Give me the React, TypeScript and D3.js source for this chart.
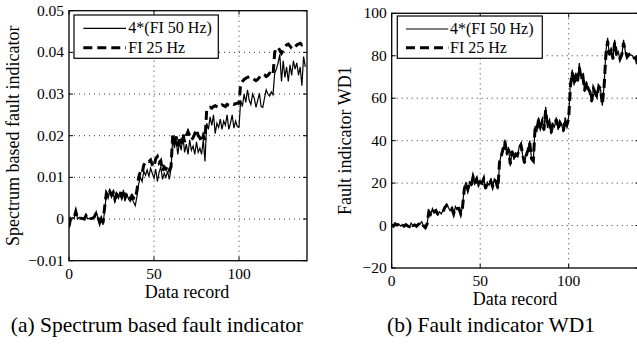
import React from "react";
import * as d3 from "d3";

const xTicks = [0, 50, 100];
const leftYTicks = [-0.01, 0, 0.01, 0.02, 0.03, 0.04, 0.05];
const leftYTickLabels = ["\u22120.01", "0", "0.01", "0.02", "0.03", "0.04", "0.05"];
const rightYTicks = [-20, 0, 20, 40, 60, 80, 100];
const rightYTickLabels = ["\u221220", "0", "20", "40", "60", "80", "100"];
const legendLabels = ["4*(FI 50 Hz)", "FI 25 Hz"];

// Left panel: spectrum based fault indicator (index 0..139)
const leftFI50 = [
  -0.0022, 0.0, 0.0003, 0.0001, 0.0024, 0.0, 0.0004, 0.0001, 0.0002, -0.0001,
  0.001, 0.0, 0.0002, 0.0, 0.0001, 0.0005, 0.0018, 0.0004, -0.001, 0.0008,
  -0.0014, 0.0022, 0.006, 0.005, 0.0068, 0.0052, 0.0062, 0.004, 0.0058, 0.005,
  0.0066, 0.0048, 0.007, 0.0044, 0.006, 0.0048, 0.0042, 0.005, 0.004, 0.0032,
  0.0055, 0.0085, 0.01, 0.009, 0.0115, 0.0105, 0.0118, 0.0102, 0.0122, 0.011,
  0.0098, 0.012, 0.009, 0.0112, 0.0125, 0.0095, 0.011, 0.01, 0.0115, 0.0095,
  0.012, 0.0195, 0.017, 0.019, 0.0155, 0.0185, 0.0165, 0.02, 0.016, 0.018,
  0.0155, 0.019, 0.0165, 0.0175, 0.0155, 0.0185, 0.016, 0.017, 0.0155, 0.019,
  0.0138, 0.023, 0.0215, 0.0245, 0.0225, 0.025, 0.0205, 0.023, 0.022, 0.024,
  0.0215, 0.0235, 0.0225, 0.025, 0.0215, 0.023, 0.025, 0.0218, 0.0235, 0.0222,
  0.022, 0.0285, 0.027, 0.03, 0.028, 0.031, 0.0285, 0.0275, 0.03, 0.029,
  0.0268, 0.0285, 0.0302, 0.027, 0.0268, 0.029, 0.031, 0.03, 0.0295, 0.0305,
  0.0298, 0.035, 0.036, 0.0375, 0.0395, 0.033, 0.038, 0.034, 0.0365, 0.033,
  0.037, 0.0345, 0.038, 0.036, 0.0375, 0.0345, 0.0365, 0.032, 0.039, 0.0365,
];
const leftFI25 = [
  -0.0018, 0.0002, 0.0002, 0.0003, 0.0018, 0.0002, 0.0003, 0.0002, 0.0001, 0.0,
  0.0008, 0.0001, 0.0001, 0.0001, 0.0002, 0.0006, 0.0015, 0.0005, -0.0008, 0.0006,
  -0.001, 0.003, 0.0062, 0.0055, 0.0066, 0.0058, 0.0064, 0.0048, 0.006, 0.0055,
  0.0066, 0.0054, 0.007, 0.0052, 0.0062, 0.0055, 0.005, 0.0056, 0.005, 0.0048,
  0.007, 0.01, 0.0115, 0.011, 0.013, 0.0135, 0.014, 0.0138, 0.0142, 0.013,
  0.0125, 0.0145, 0.015, 0.0135, 0.014, 0.0115, 0.0125, 0.012, 0.0128, 0.0118,
  0.0125, 0.02, 0.0185, 0.0198, 0.0175, 0.0195, 0.018, 0.0205, 0.0185, 0.02,
  0.021, 0.02, 0.019, 0.0195, 0.0205, 0.0215, 0.02, 0.0195, 0.0185, 0.02,
  0.019, 0.0262, 0.0265, 0.0268, 0.0266, 0.027, 0.0272, 0.027, 0.0268, 0.027,
  0.0274, 0.0272, 0.027, 0.0275, 0.0273, 0.0272, 0.0276, 0.0275, 0.0277, 0.0278,
  0.0278, 0.0325, 0.033, 0.0335, 0.0338, 0.034, 0.0342, 0.034, 0.0338, 0.0335,
  0.0332, 0.0335, 0.034, 0.0345, 0.0348, 0.0346, 0.0342, 0.0345, 0.035, 0.0348,
  0.0345, 0.04, 0.041, 0.0412, 0.0405, 0.0398, 0.0405, 0.0412, 0.0418, 0.042,
  0.0415, 0.041, 0.0408, 0.0412, 0.0418, 0.042, 0.0422, 0.0418, 0.042, 0.0422,
];

// Right panel: fault indicator WD1 (index 0..140)
const rightFI50 = [
  0.5, -0.5, 1.0, 0.0, 0.8, -0.3, 0.5, -0.5, 0.2, 0.0,
  -0.8, 1.2, -0.2, 0.5, -0.5, 0.3, 0.8, 1.8, -0.5, -0.8,
  0.5, 7.5, 5.0, 8.0, 6.0, 7.5, 5.0, 6.5, 5.5, 7.0,
  8.0, 10.0, 8.5, 7.0, 8.5, 5.0, 9.0, 7.5, 8.5, 5.0,
  9.0, 18.0, 20.5, 16.0, 21.0, 18.5, 24.0, 20.0, 22.5, 18.0,
  21.0, 19.5, 23.0, 17.0, 20.5, 19.0, 21.5, 18.0, 22.0, 21.0,
  17.0, 30.0, 34.0, 36.0, 40.5, 33.0, 37.0, 28.0, 35.5, 31.0,
  34.0, 32.5, 37.0, 38.5, 33.0, 29.0, 33.5, 36.0, 40.0, 31.0,
  30.0, 47.0, 44.0, 51.0, 46.0, 50.0, 44.5, 56.0, 46.0, 49.0,
  43.0, 48.0, 46.5, 51.0, 45.0, 49.0, 47.5, 44.0, 51.0, 47.0,
  51.5, 68.0, 73.5, 66.0, 72.0, 68.5, 76.5, 69.0, 71.5, 63.0,
  68.0, 64.0, 62.5, 58.0, 65.0, 62.0, 60.0, 66.0, 64.0, 56.5,
  66.0, 82.0, 88.5, 80.0, 84.0, 78.0, 87.5, 80.5, 82.0, 78.0,
  80.0, 87.5, 82.0, 79.0, 81.0, 80.5, 80.0, 78.5, 79.5, 75.0,
  74.0,
];
const rightFI25 = [
  0.3, -0.3, 0.8, 0.2, 0.6, -0.1, 0.3, -0.3, 0.4, -0.2,
  -0.5, 1.0, 0.0, 0.3, -0.3, 0.5, 1.0, 1.5, -0.2, -1.0,
  0.8, 6.5, 5.5, 7.5, 6.5, 7.0, 5.5, 6.0, 6.0, 6.5,
  8.5, 9.5, 8.0, 7.5, 8.0, 5.5, 8.5, 8.0, 8.0, 5.5,
  8.5, 17.0, 20.0, 17.0, 20.0, 19.0, 23.0, 20.5, 22.0, 18.5,
  20.5, 20.0, 22.0, 17.5, 20.0, 19.5, 21.0, 18.5, 21.5, 20.5,
  17.5, 31.0, 33.0, 36.5, 39.5, 33.5, 36.0, 29.0, 35.0, 31.5,
  33.5, 33.0, 36.5, 38.0, 33.5, 29.5, 33.0, 35.5, 39.0, 31.5,
  30.5, 46.0, 45.0, 50.0, 46.5, 49.0, 45.0, 54.5, 46.5, 48.5,
  43.5, 47.5, 47.0, 50.0, 45.5, 48.5, 47.0, 44.5, 50.0, 47.5,
  50.5, 66.0, 72.0, 66.5, 71.0, 68.0, 74.5, 69.5, 70.5, 63.5,
  67.5, 64.5, 63.0, 58.5, 64.5, 62.5, 60.5, 65.5, 64.5, 57.0,
  65.5, 80.5, 87.0, 80.5, 83.0, 78.5, 86.5, 81.0, 81.5, 78.5,
  80.5, 86.0, 82.5, 79.5, 80.5, 81.0, 80.5, 79.0, 79.0, 75.5,
  74.5,
];

const FONT = "'Liberation Serif', 'Times New Roman', serif";

type PanelProps = {
  id: string;
  left: number;
  right: number;
  top: number;
  bottom: number;
  yDomain: [number, number];
  yTicks: number[];
  yTickLabels: string[];
  s50: number[];
  s25: number[];
  yLabel: string;
  yLabelX: number;
  legend: { x: number; y: number; w: number; h: number; lineX0: number; lineX1: number; textX: number; row1: number; row2: number };
  caption: string;
  captionX: number;
  xLabelX: number;
};

function Panel(p: PanelProps) {
  const x = d3.scaleLinear().domain([0, 140]).range([p.left, p.right]);
  const y = d3.scaleLinear().domain(p.yDomain).range([p.bottom, p.top]);
  const line = d3
    .line<number>()
    .x((_, i) => x(i))
    .y((d) => y(d));
  const plotRight = Math.min(p.right, 640);
  const tickLen = 4;
  return (
    <g>
      <defs>
        <clipPath id={`clip-${p.id}`}>
          <rect x={p.left} y={p.top} width={plotRight - p.left} height={p.bottom - p.top} />
        </clipPath>
      </defs>
      {/* grid */}
      {p.yTicks.slice(1, -1).map((t) => (
        <line key={`gy${t}`} x1={p.left} x2={plotRight} y1={y(t)} y2={y(t)} stroke="#333" strokeWidth={1} strokeDasharray="1,4" />
      ))}
      {xTicks.slice(1).map((t) => (
        <line key={`gx${t}`} x1={x(t)} x2={x(t)} y1={p.top} y2={p.bottom} stroke="#333" strokeWidth={1} strokeDasharray="1,4" />
      ))}
      {/* data */}
      <g clipPath={`url(#clip-${p.id})`}>
        <path d={line(p.s25) || ""} fill="none" stroke="#000" strokeWidth={3} strokeDasharray="9,5" />
        <path d={line(p.s50) || ""} fill="none" stroke="#000" strokeWidth={1.2} />
      </g>
      {/* frame */}
      <rect x={p.left} y={p.top} width={p.right - p.left} height={p.bottom - p.top} fill="none" stroke="#000" strokeWidth={1.3} />
      {/* ticks */}
      {xTicks.map((t) => (
        <g key={`xt${t}`}>
          <line x1={x(t)} x2={x(t)} y1={p.bottom} y2={p.bottom - tickLen} stroke="#000" />
          <line x1={x(t)} x2={x(t)} y1={p.top} y2={p.top + tickLen} stroke="#000" />
          <text x={x(t)} y={p.bottom + 18} textAnchor="middle" fontSize={15.5} fontFamily={FONT}>
            {t}
          </text>
        </g>
      ))}
      {p.yTicks.map((t, i) => (
        <g key={`yt${t}`}>
          <line x1={p.left} x2={p.left + tickLen} y1={y(t)} y2={y(t)} stroke="#000" />
          <line x1={p.right} x2={p.right - tickLen} y1={y(t)} y2={y(t)} stroke="#000" />
          <text x={p.left - 5} y={y(t) + 5} textAnchor="end" fontSize={15.5} fontFamily={FONT}>
            {p.yTickLabels[i]}
          </text>
        </g>
      ))}
      {/* axis labels */}
      <text x={p.xLabelX} y={p.bottom + 37} textAnchor="middle" fontSize={18} fontFamily={FONT}>
        Data record
      </text>
      <text
        transform={`translate(${p.yLabelX},${(p.top + p.bottom) / 2}) rotate(-90)`}
        textAnchor="middle"
        fontSize={18}
        fontFamily={FONT}
      >
        {p.yLabel}
      </text>
      {/* legend */}
      <rect x={p.legend.x} y={p.legend.y} width={p.legend.w} height={p.legend.h} fill="#fff" stroke="#000" strokeWidth={1.2} />
      <line x1={p.legend.lineX0} x2={p.legend.lineX1} y1={p.legend.row1} y2={p.legend.row1} stroke="#000" strokeWidth={1.2} />
      <text x={p.legend.textX} y={p.legend.row1 + 5} fontSize={16} fontFamily={FONT}>
        {legendLabels[0]}
      </text>
      <line x1={p.legend.lineX0} x2={p.legend.lineX1} y1={p.legend.row2} y2={p.legend.row2} stroke="#000" strokeWidth={3} strokeDasharray="9,5" />
      <text x={p.legend.textX} y={p.legend.row2 + 5} fontSize={16} fontFamily={FONT}>
        {legendLabels[1]}
      </text>
      {/* caption */}
      <text x={p.captionX} y={332} textAnchor="middle" fontSize={21.5} fontFamily={FONT}>
        {p.caption}
      </text>
    </g>
  );
}

export default function App() {
  return (
    <svg
      width={637}
      height={350}
      style={{ position: "absolute", left: 0, top: 0, background: "#fff" }}
    >
      <rect x={0} y={0} width={637} height={350} fill="#fff" />
      <Panel
        id="a"
        left={69}
        right={307}
        top={10.7}
        bottom={260.7}
        yDomain={[-0.01, 0.05]}
        yTicks={leftYTicks}
        yTickLabels={leftYTickLabels}
        s50={leftFI50}
        s25={leftFI25}
        yLabel="Spectrum based fault indicator"
        yLabelX={19}
        legend={{ x: 74, y: 15, w: 144.3, h: 43.3, lineX0: 83.3, lineX1: 126, textX: 128.3, row1: 28.3, row2: 47.7 }}
        caption="(a) Spectrum based fault indicator"
        captionX={157}
        xLabelX={187}
      />
      <Panel
        id="b"
        left={391.7}
        right={639.5}
        top={13.3}
        bottom={268}
        yDomain={[-20, 100]}
        yTicks={rightYTicks}
        yTickLabels={rightYTickLabels}
        s50={rightFI50}
        s25={rightFI25}
        yLabel="Fault indicator WD1"
        yLabelX={351}
        legend={{ x: 397.3, y: 16, w: 145, h: 42.3, lineX0: 406, lineX1: 448.3, textX: 450, row1: 29, row2: 47.7 }}
        caption="(b) Fault indicator WD1"
        captionX={491}
        xLabelX={515}
      />
    </svg>
  );
}
